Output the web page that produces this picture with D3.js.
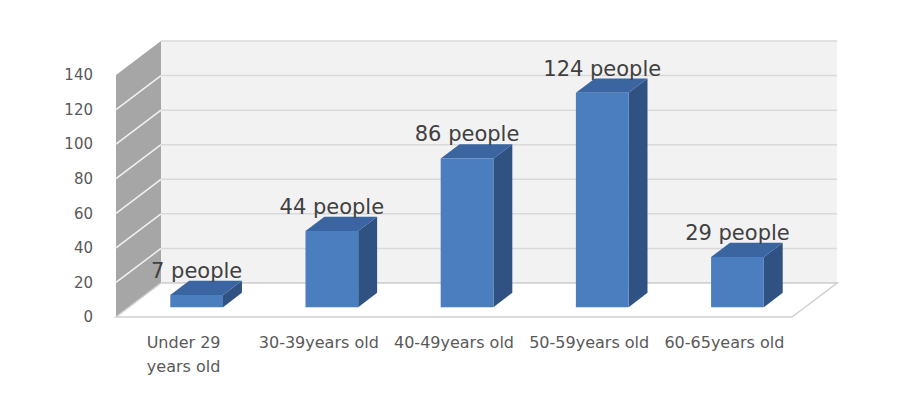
<!DOCTYPE html>
<html>
<head>
<meta charset="utf-8">
<script src="https://cdn.jsdelivr.net/npm/d3@7"></script>
<style>
  html, body { margin: 0; padding: 0; background: #fff; }
  svg text { font-family: "DejaVu Sans", sans-serif; }
</style>
</head>
<body>
<div id="chart"></div>
<script>
// Data
const categories = ["Under 29 years old", "30-39years old", "40-49years old", "50-59years old", "60-65years old"];
const counts = [7, 44, 86, 124, 29];
const labels = ["7 people", "44 people", "86 people", "124 people", "29 people"];
const tickValues = [0, 20, 40, 60, 80, 100, 120, 140];

const W = 899, H = 404;
// front plane of the 3D box
const left = 116, right = 792, floorY = 317, topY = 75;
// depth offset (back plane relative to front)
const depthX = 45, depthY = -34;
const barFront = 0.29, barBack = 0.71;

const svg = d3.select("#chart")
    .append("svg")
    .attr("width", W)
    .attr("height", H);

const x = d3.scaleBand().domain(categories).range([left, right]).padding(0);
const y = d3.scaleLinear().domain([0, 140]).range([floorY, topY]);
const barW = x.bandwidth() * 0.39;

// shift a point to depth d (0 = front, 1 = back)
const at = (px, py, d) => [px + depthX * d, py + depthY * d];
const poly = pts => pts.map(p => p.join(",")).join(" ");

// Back wall
svg.append("polygon")
    .attr("points", poly([at(left, y(140), 1), at(right, y(140), 1), at(right, y(0), 1), at(left, y(0), 1)]))
    .attr("fill", "#f2f2f2");

svg.append("g")
    .selectAll("line")
    .data(tickValues)
    .enter()
    .append("line")
    .attr("x1", left + depthX)
    .attr("x2", right + depthX)
    .attr("y1", d => y(d) + depthY)
    .attr("y2", d => y(d) + depthY)
    .attr("stroke", "#d9d9d9")
    .attr("stroke-width", 1.5);

// Side wall
svg.append("polygon")
    .attr("points", poly([[left, y(140)], at(left, y(140), 1), at(left, y(0), 1), [left, y(0)]]))
    .attr("fill", "#a6a6a6");

svg.append("g")
    .selectAll("line")
    .data(tickValues.slice(1, -1))
    .enter()
    .append("line")
    .attr("x1", left)
    .attr("y1", d => y(d))
    .attr("x2", left + depthX)
    .attr("y2", d => y(d) + depthY)
    .attr("stroke", "#f2f2f2")
    .attr("stroke-width", 1.5);

// Floor
svg.append("polygon")
    .attr("points", poly([[left, y(0)], [right, y(0)], at(right, y(0), 1), at(left, y(0), 1)]))
    .attr("fill", "#ffffff")
    .attr("stroke", "#d0d0d0")
    .attr("stroke-width", 1.5);

// Y axis labels
svg.append("g")
    .attr("transform", `translate(${left}, 0)`)
    .call(d3.axisLeft(y).tickValues(tickValues).tickSize(0).tickPadding(23))
    .call(g => g.select(".domain").remove())
    .selectAll("text")
    .attr("fill", "#595959")
    .style("font-size", "15px")
    .style("font-family", "DejaVu Sans, sans-serif");

// Bars
const bars = svg.append("g")
    .selectAll("g")
    .data(categories.map((c, i) => ({ cat: c, value: counts[i], label: labels[i] })))
    .enter()
    .append("g");

bars.each(function (d) {
    const g = d3.select(this);
    const cx = x(d.cat) + x.bandwidth() / 2;
    const x0 = cx - barW / 2, x1 = cx + barW / 2;
    const yb = y(0), yt = y(d.value);
    const fBL = at(x0, yb, barFront), fBR = at(x1, yb, barFront);
    const fTL = at(x0, yt, barFront), fTR = at(x1, yt, barFront);
    const bTL = at(x0, yt, barBack), bTR = at(x1, yt, barBack), bBR = at(x1, yb, barBack);

    // right side
    g.append("polygon")
        .attr("points", poly([fBR, fTR, bTR, bBR]))
        .attr("fill", "#2f5283");
    // top
    g.append("polygon")
        .attr("points", poly([fTL, fTR, bTR, bTL]))
        .attr("fill", "#3a65a0");
    // front
    g.append("polygon")
        .attr("points", poly([fBL, fBR, fTR, fTL]))
        .attr("fill", "#4a7ebf");

    // data label
    g.append("text")
        .attr("x", (fTL[0] + fTR[0]) / 2)
        .attr("y", bTL[1] - 3)
        .attr("text-anchor", "middle")
        .attr("fill", "#404040")
        .style("font-size", "21px")
        .text(d.label);
});

// Category labels with simple word wrap
const maxLine = x.bandwidth() * 0.9;
const catG = svg.append("g");
categories.forEach(c => {
    const cx = x(c) + x.bandwidth() / 2;
    const t = catG.append("text")
        .attr("x", cx)
        .attr("y", 348)
        .attr("text-anchor", "middle")
        .attr("fill", "#595959")
        .style("font-size", "16px");
    const words = c.split(" ");
    let line = [];
    let tspan = t.append("tspan").attr("x", cx).attr("y", 348);
    let lineNo = 0;
    words.forEach(w => {
        line.push(w);
        tspan.text(line.join(" "));
        if (tspan.node().getComputedTextLength() > maxLine && line.length > 1) {
            line.pop();
            tspan.text(line.join(" "));
            line = [w];
            lineNo++;
            tspan = t.append("tspan").attr("x", cx).attr("y", 348 + lineNo * 24).text(w);
        }
    });
});
</script>
</body>
</html>
